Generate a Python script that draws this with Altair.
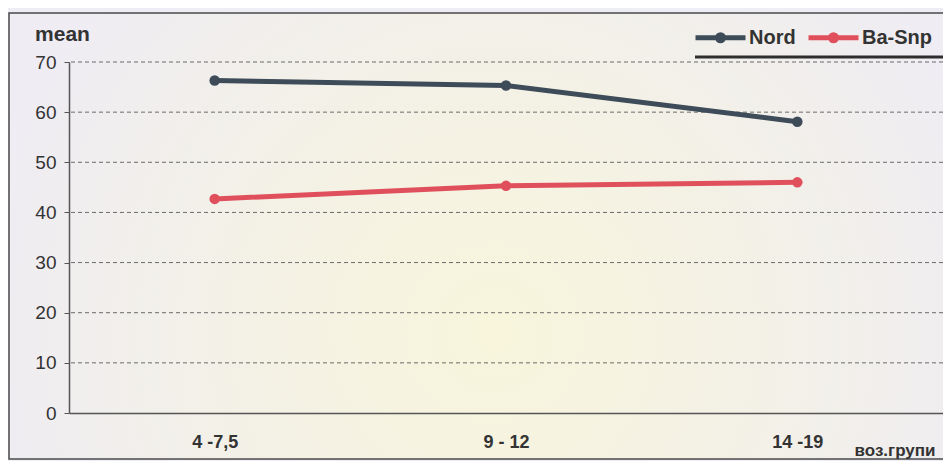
import altair as alt
import pandas as pd

groups = ["4 -7,5", "9 - 12", "14 -19"]
nord = [66.3, 65.3, 58.1]
ba_snp = [42.7, 45.3, 46.0]
series = ["Nord", "Ba-Snp"]
colors = ["#3e4b58", "#e0505c"]
y_ticks = [0, 10, 20, 30, 40, 50, 60, 70]

df = pd.DataFrame({
    "group": groups * 2,
    "series": [series[0]] * 3 + [series[1]] * 3,
    "mean": nord + ba_snp,
})

FONT = "Liberation Sans"
W, H = 874, 351

one = pd.DataFrame({"a": [0]})

grad = alt.RadialGradient(
    gradient="radial",
    x1=0.5, y1=0.6, r1=0.0,
    x2=0.5, y2=0.6, r2=0.55,
    stops=[
        alt.GradientStop(color="#f8f5dc", offset=0),
        alt.GradientStop(color="#f3f1e6", offset=0.5),
        alt.GradientStop(color="#efecf4", offset=1),
    ],
)

bg = alt.Chart(one).mark_rect(fill=grad, stroke="#4a4a4a", strokeWidth=1.5).encode(
    x=alt.value(-60), x2=alt.value(910), y=alt.value(-49), y2=alt.value(397)
)

grid = alt.Chart(pd.DataFrame({"v": y_ticks[1:]})).mark_rule(
    strokeDash=[4, 3], color="#6a6a6a", strokeWidth=1
).encode(y=alt.Y("v:Q"))

legend_line = alt.Chart(one).mark_rule(color="#2e2e2e", strokeWidth=3).encode(
    x=alt.value(626), x2=alt.value(900), y=alt.value(-5)
)

sym = "M-1,0L1,0M-0.12,0A0.12,0.12 0 1,0 0.12,0A0.12,0.12 0 1,0 -0.12,0"

lines = alt.Chart(df).mark_line(
    strokeWidth=5,
    point=alt.OverlayMarkDef(size=110, filled=True),
).encode(
    x=alt.X("group:N", sort=groups,
            axis=alt.Axis(title="воз.групи", labelAngle=0, ticks=False, zindex=1,
                          domainColor="#555555", domainWidth=1.5,
                          labelFont=FONT, labelFontSize=18, labelFontWeight="bold",
                          labelColor="#333333", labelPadding=20,
                          titleFont=FONT, titleFontSize=17, titleFontWeight="bold",
                          titleColor="#333333", titleAlign="right", titleAnchor="end",
                          titleX=866, titleY=42, titleBaseline="alphabetic")),
    y=alt.Y("mean:Q", scale=alt.Scale(domain=[0, 70], nice=False),
            axis=alt.Axis(title="mean", values=y_ticks, grid=False, zindex=1,
                          domainColor="#555555", domainWidth=1.5,
                          tickColor="#555555", tickSize=5,
                          labelFont=FONT, labelFontSize=19, labelColor="#333333",
                          labelPadding=8,
                          titleFont=FONT, titleFontSize=21, titleFontWeight="bold",
                          titleColor="#333333", titleAngle=0, titleAlign="center",
                          titleX=-7, titleY=-22, titleBaseline="alphabetic")),
    color=alt.Color("series:N", scale=alt.Scale(domain=series, range=colors),
                    legend=alt.Legend(title=None, orient="none", direction="horizontal",
                                      legendX=624, legendY=-52,
                                      symbolType=sym, symbolSize=2500,
                                      symbolStrokeWidth=5, labelOffset=1,
                                      columnPadding=2, padding=0,
                                      labelFont=FONT, labelFontSize=20,
                                      labelFontWeight="bold", labelColor="#333333")),
)

chart = alt.layer(bg, grid, legend_line, lines).properties(
    width=W, height=H,
    autosize=alt.AutoSizeParams(type="none"),
    padding={"left": 61, "top": 54, "right": 0, "bottom": 48},
).configure(background="#eeecf4").configure_view(stroke=None)

chart.save("out.html", embed_options={"renderer": "svg", "actions": False})
